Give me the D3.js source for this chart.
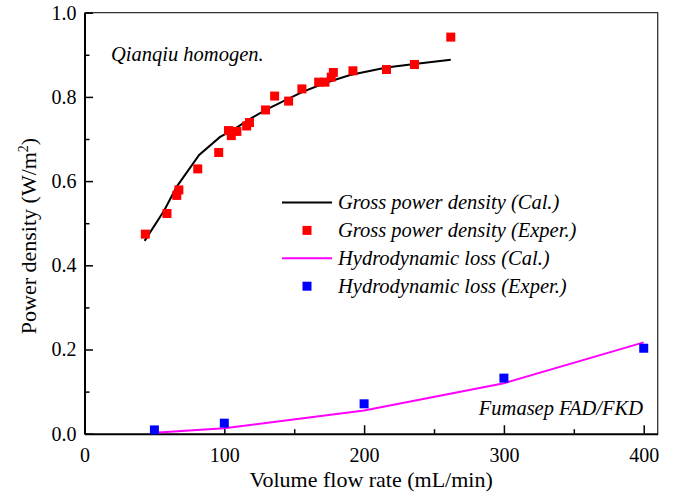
<!DOCTYPE html>
<html>
<head>
<meta charset="utf-8">
<script src="https://cdn.jsdelivr.net/npm/d3@7"></script>
<style>
  html, body { margin: 0; padding: 0; background: #fff; }
  svg { display: block; }
</style>
</head>
<body>
<svg id="chart" width="675" height="496"></svg>
<script>
// ---- data ----
const grossExpX = [43.5, 59, 66, 67.5, 81, 96, 103, 105, 109, 116, 118, 129.5, 136, 146, 155.5, 167.5, 172, 176.5, 178, 192, 216, 236, 262];
const grossExpY = [0.474, 0.523, 0.566, 0.579, 0.629, 0.668, 0.720, 0.708, 0.718, 0.731, 0.739, 0.769, 0.802, 0.790, 0.819, 0.835, 0.835, 0.847, 0.858, 0.862, 0.865, 0.877, 0.942];
const grossCalX = [43, 57, 66, 82, 97, 106, 117, 130, 146, 156, 172, 190, 216, 236, 262];
const grossCalY = [0.458, 0.530, 0.587, 0.662, 0.705, 0.721, 0.745, 0.770, 0.796, 0.812, 0.833, 0.852, 0.870, 0.878, 0.888];
const hydroExpX = [50, 100, 200, 300, 400];
const hydroExpY = [0.009, 0.025, 0.071, 0.132, 0.203];
const hydroCalX = [50, 100, 200, 300, 400];
const hydroCalY = [0.002, 0.013, 0.055, 0.120, 0.217];
const xTicks = [0, 100, 200, 300, 400];
const xMinor = [50, 150, 250, 350];
const yTicks = [0.0, 0.2, 0.4, 0.6, 0.8, 1.0];
const yMinor = [0.1, 0.3, 0.5, 0.7, 0.9];
const legendLabels = ["Gross power density (Cal.)", "Gross power density (Exper.)", "Hydrodynamic loss (Cal.)", "Hydrodynamic loss (Exper.)"];
const legendKinds = ["line", "square", "line", "square"];
const legendColors = ["#000000", "#ff0000", "#ff00ff", "#0000ff"];
const xTitle = "Volume flow rate (mL/min)";
const annoTop = "Qianqiu homogen.";
const annoBottom = "Fumasep FAD/FKD";

// ---- layout ----
const FONT = "Liberation Serif";
const W = 675, H = 496;
const m = { left: 84.5, top: 12.7, right: 17.3, bottom: 62.3 };
const svg = d3.select("#chart");
const x = d3.scaleLinear().domain([0, 410]).range([m.left, W - m.right]);
const y = d3.scaleLinear().domain([0, 1]).range([H - m.bottom, m.top]);

// frame (top/right)
svg.append("path")
  .attr("d", `M${x(0)},${y(1)}H${x(410)}V${y(0)}`)
  .attr("fill", "none").attr("stroke", "#333").attr("stroke-width", 1.3);

// minor ticks
svg.append("g").attr("transform", `translate(0,${y(0)})`)
  .call(d3.axisBottom(x).tickValues(xMinor).tickSize(-4.5).tickFormat(""))
  .call(g => g.select(".domain").remove())
  .selectAll("line").attr("stroke-width", 1.5);
svg.append("g").attr("transform", `translate(${x(0)},0)`)
  .call(d3.axisLeft(y).tickValues(yMinor).tickSize(-5).tickFormat(""))
  .call(g => g.select(".domain").remove())
  .selectAll("line").attr("stroke-width", 1.5);

// major axes
const xAxis = svg.append("g").attr("transform", `translate(0,${y(0)})`)
  .call(d3.axisBottom(x).tickValues(xTicks).tickSize(-8.5).tickSizeOuter(0).tickPadding(14).tickFormat(d3.format("d")));
const yAxis = svg.append("g").attr("transform", `translate(${x(0)},0)`)
  .call(d3.axisLeft(y).tickValues(yTicks).tickSize(-8.5).tickSizeOuter(0).tickPadding(8).tickFormat(d3.format(".1f")));
[xAxis, yAxis].forEach(a => {
  a.select(".domain").attr("stroke", "#000").attr("stroke-width", 2);
  a.selectAll(".tick line").attr("stroke-width", 1.5);
  a.selectAll("text").style("font-family", FONT).style("font-size", "20px").attr("fill", "#000");
});

// axis titles
svg.append("text").attr("x", (x(0) + x(410)) / 2).attr("y", 487)
  .attr("text-anchor", "middle").style("font-family", FONT).style("font-size", "22px").text(xTitle);
const yt = svg.append("text").attr("transform", `translate(36,236) rotate(-90)`)
  .attr("text-anchor", "middle").style("font-family", FONT).style("font-size", "22px");
yt.append("tspan").text("Power density (W/m");
yt.append("tspan").attr("dy", -8).style("font-size", "14px").text("2");
yt.append("tspan").attr("dy", 8).text(")");

// lines
const line = d3.line().x(d => x(d[0])).y(d => y(d[1]));
svg.append("path").datum(grossCalX.map((v, i) => [v, grossCalY[i]]))
  .attr("d", line).attr("fill", "none").attr("stroke", "#000").attr("stroke-width", 2);
svg.append("path").datum(hydroCalX.map((v, i) => [v, hydroCalY[i]]))
  .attr("d", line).attr("fill", "none").attr("stroke", "#ff00ff").attr("stroke-width", 2);

// squares
const S = 9;
function squares(xs, ys, color) {
  svg.append("g").selectAll("rect").data(xs.map((v, i) => [v, ys[i]])).join("rect")
    .attr("x", d => x(d[0]) - S / 2).attr("y", d => y(d[1]) - S / 2)
    .attr("width", S).attr("height", S).attr("fill", color);
}
squares(grossExpX, grossExpY, "#ff0000");
squares(hydroExpX, hydroExpY, "#0000ff");

// legend
const lg = svg.append("g");
legendLabels.forEach((lab, i) => {
  const cy = 202.5 + i * 27.9;
  if (legendKinds[i] === "line") {
    lg.append("line").attr("x1", 282).attr("x2", 332).attr("y1", cy).attr("y2", cy)
      .attr("stroke", legendColors[i]).attr("stroke-width", 2);
  } else {
    lg.append("rect").attr("x", 307 - S / 2).attr("y", cy - S / 2).attr("width", S).attr("height", S)
      .attr("fill", legendColors[i]);
  }
  lg.append("text").attr("x", 338).attr("y", cy).attr("dy", "0.33em").style("font-family", FONT)
    .style("font-size", "20.5px").style("font-style", "italic").text(lab);
});

// annotations
svg.append("text").attr("x", 111).attr("y", 61).style("font-family", FONT).style("font-size", "20.5px").style("font-style", "italic").text(annoTop);
svg.append("text").attr("x", 643).attr("y", 415).attr("text-anchor", "end").style("font-family", FONT).style("font-size", "20.5px").style("font-style", "italic").text(annoBottom);
</script>
</body>
</html>
